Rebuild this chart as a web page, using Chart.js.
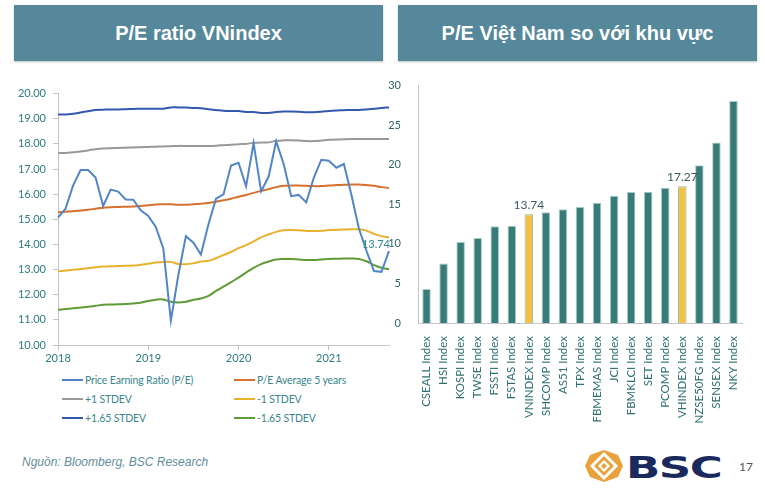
<!DOCTYPE html>
<html>
<head>
<meta charset="utf-8">
<script src="https://cdn.jsdelivr.net/npm/chart.js@4.4.1/dist/chart.umd.min.js"></script>
<style>
  body {
    margin: 0;
    width: 765px;
    height: 490px;
    background: #fff;
    position: relative;
    overflow: hidden;
    font-family: Lato, "Open Sans", sans-serif;
  }
  .header {
    position: absolute;
    top: 5px;
    height: 56px;
    background: #55889a;
    color: #fff;
    font-family: "Liberation Sans Narrow", "Arial Narrow", sans-serif;
    font-weight: bold;
    font-size: 20px;
    display: flex;
    align-items: center;
    justify-content: center;
    box-shadow: 0 1px 2px rgba(0, 0, 0, 0.25);
  }
  .box { position: absolute; }
  #peLegend {
    position: absolute;
    left: 62px;
    top: 372px;
    display: grid;
    grid-template-columns: 172px 150px;
    row-gap: 4px;
    font-size: 10.5px;
    letter-spacing: -0.15px;
    color: #3a868d;
  }
  .item { display: flex; align-items: center; height: 15px; white-space: nowrap; }
  .swatch { width: 21px; height: 2px; margin-right: 2px; }
  .source {
    position: absolute;
    left: 22px;
    top: 455px;
    font-family: "Liberation Sans", Arial, sans-serif;
    font-style: italic;
    font-size: 12px;
    color: #5f8e9c;
  }
  .logo { position: absolute; left: 584px; top: 449px; }
  .bsc {
    position: absolute;
    left: 626px;
    top: 450px;
    font-family: "DejaVu Sans", sans-serif;
    font-weight: bold;
    font-size: 30px;
    color: #1b2a5c;
    transform: scaleX(1.5);
    transform-origin: left top;
    letter-spacing: -1px;
  }
  .page { position: absolute; left: 739px; top: 459px; font-size: 12px; color: #555; }
</style>
</head>
<body>
<div class="header" style="left:14px; width:369px;">P/E ratio VNindex</div>
<div class="header" style="left:398px; width:359px;">P/E Việt Nam so với khu vực</div>

<div class="box" style="left:0; top:80px; width:395px; height:285px;">
  <canvas id="peChart"></canvas>
</div>
<div id="peLegend"></div>

<div class="box" style="left:385px; top:70px; width:380px; height:360px;">
  <canvas id="regionChart"></canvas>
</div>

<div class="source">Nguồn: Bloomberg, BSC Research</div>
<svg class="logo" width="40" height="34" viewBox="0 0 40 34">
  <path d="M20 1 L34 6 L39 17 L34 28 L20 33 L6 28 L1 17 L6 6 Z" fill="#e9a23b"/>
  <path d="M20 5 L32 17 L20 29 L8 17 Z" fill="none" stroke="#fff" stroke-width="3"/>
  <path d="M20 11 L26 17 L20 23 L14 17 Z" fill="#fff"/>
  <path d="M20 14 L23 17 L20 20 L17 17 Z" fill="#e9a23b"/>
</svg>
<div class="bsc">BSC</div>
<div class="page">17</div>

<script>
// Monthly P/E of VNindex and its bands (Jan 2018 - Sep 2021)
const months = [
  "2018-01", "2018-02", "2018-03", "2018-04", "2018-05", "2018-06", "2018-07", "2018-08", "2018-09", "2018-10", "2018-11", "2018-12",
  "2019-01", "2019-02", "2019-03", "2019-04", "2019-05", "2019-06", "2019-07", "2019-08", "2019-09", "2019-10", "2019-11", "2019-12",
  "2020-01", "2020-02", "2020-03", "2020-04", "2020-05", "2020-06", "2020-07", "2020-08", "2020-09", "2020-10", "2020-11", "2020-12",
  "2021-01", "2021-02", "2021-03", "2021-04", "2021-05", "2021-06", "2021-07", "2021-08", "2021-09",
];
const peRatio = [
  15.07, 15.42, 16.34, 16.96, 16.96, 16.66, 15.53, 16.18, 16.10, 15.79, 15.78, 15.36,
  15.13, 14.70, 13.84, 10.97, 12.79, 14.33, 14.07, 13.60, 14.80, 15.82, 15.99, 17.14,
  17.25, 16.31, 18.03, 16.11, 16.70, 18.10, 17.20, 15.92, 15.97, 15.67, 16.65, 17.37,
  17.33, 17.05, 17.20, 15.98, 14.63, 13.75, 12.94, 12.91, 13.74,
];
const peAvg5y = [
  15.28, 15.30, 15.32, 15.35, 15.38, 15.42, 15.46, 15.48, 15.49, 15.50, 15.51, 15.53,
  15.56, 15.59, 15.60, 15.60, 15.58, 15.58, 15.60, 15.62, 15.65, 15.70, 15.76, 15.82,
  15.90, 15.97, 16.05, 16.13, 16.20, 16.28, 16.33, 16.34, 16.34, 16.33, 16.32, 16.32,
  16.34, 16.36, 16.37, 16.38, 16.38, 16.36, 16.33, 16.28, 16.25,
];
const plus1Sd = [
  17.63, 17.64, 17.67, 17.70, 17.74, 17.79, 17.82, 17.83, 17.84, 17.85, 17.86, 17.87,
  17.88, 17.89, 17.90, 17.91, 17.92, 17.92, 17.92, 17.92, 17.92, 17.93, 17.95, 17.97,
  17.99, 18.00, 18.04, 18.05, 18.06, 18.12, 18.14, 18.14, 18.13, 18.11, 18.11, 18.13,
  18.16, 18.17, 18.18, 18.19, 18.19, 18.19, 18.19, 18.19, 18.19,
];
const minus1Sd = [
  12.93, 12.96, 12.99, 13.02, 13.05, 13.09, 13.12, 13.13, 13.14, 13.15, 13.16, 13.19,
  13.23, 13.28, 13.30, 13.30, 13.22, 13.21, 13.25, 13.32, 13.35, 13.45, 13.58, 13.70,
  13.85, 13.97, 14.12, 14.28, 14.40, 14.50, 14.56, 14.57, 14.56, 14.54, 14.53, 14.54,
  14.57, 14.58, 14.59, 14.60, 14.60, 14.55, 14.42, 14.33, 14.28,
];
const plus165Sd = [
  19.17, 19.17, 19.20, 19.25, 19.30, 19.35, 19.36, 19.37, 19.37, 19.38, 19.39, 19.40,
  19.40, 19.40, 19.40, 19.45, 19.45, 19.45, 19.43, 19.42, 19.38, 19.35, 19.32, 19.31,
  19.31, 19.27, 19.27, 19.23, 19.23, 19.27, 19.29, 19.29, 19.28, 19.26, 19.26, 19.28,
  19.31, 19.33, 19.34, 19.35, 19.35, 19.37, 19.40, 19.43, 19.45,
];
const minus165Sd = [
  11.40, 11.43, 11.46, 11.49, 11.52, 11.56, 11.60, 11.61, 11.62, 11.63, 11.65, 11.68,
  11.75, 11.80, 11.81, 11.72, 11.69, 11.72, 11.80, 11.85, 11.95, 12.15, 12.32, 12.50,
  12.68, 12.88, 13.07, 13.22, 13.32, 13.40, 13.42, 13.42, 13.40, 13.38, 13.38, 13.40,
  13.42, 13.43, 13.44, 13.44, 13.42, 13.33, 13.18, 13.07, 13.02,
];

// Regional P/E comparison
const indexNames = [
  "CSEALL Index", "HSI Index", "KOSPI Index", "TWSE Index", "FSSTI Index", "FSTAS Index",
  "VNINDEX Index", "SHCOMP Index", "AS51 Index", "TPX Index", "FBMEMAS Index", "JCI Index",
  "FBMKLCI Index", "SET Index", "PCOMP Index", "VHINDEX Index", "NZSE50FG Index", "SENSEX Index", "NKY Index",
];
const indexPE = [
  4.30, 7.52, 10.24, 10.74, 12.24, 12.29, 13.74, 14.00, 14.38, 14.67,
  15.21, 16.09, 16.55, 16.59, 17.09, 17.27, 19.93, 22.82, 28.04,
];
const highlighted = ["VNINDEX Index", "VHINDEX Index"];

const tickColor = "#2f7c80";
const axisColor = "#c4c4c4";

/**
 * Label on the last P/E point
 */
const lastValueLabel = {
  id: "lastValueLabel",
  afterDatasetsDraw(chart) {
    const meta = chart.getDatasetMeta(0);
    const pt = meta.data[meta.data.length - 1];
    const value = chart.data.datasets[0].data[meta.data.length - 1];
    const ctx = chart.ctx;
    ctx.save();
    ctx.font = "11px Lato, sans-serif";
    ctx.fillStyle = "#31888c";
    ctx.textAlign = "right";
    ctx.textBaseline = "bottom";
    ctx.fillText(value.toFixed(2), pt.x + 1, pt.y - 1);
    ctx.restore();
  },
};

/**
 * Labels above highlighted bars
 */
const barValueLabels = {
  id: "barValueLabels",
  afterDatasetsDraw(chart) {
    const meta = chart.getDatasetMeta(0);
    const ctx = chart.ctx;
    ctx.save();
    ctx.font = "12px Lato, sans-serif";
    ctx.fillStyle = "#3d5c5c";
    ctx.textAlign = "center";
    ctx.textBaseline = "bottom";
    chart.data.labels.forEach((name, i) => {
      if (!highlighted.includes(name)) return;
      const bar = meta.data[i];
      ctx.fillText(chart.data.datasets[0].data[i].toFixed(2), bar.x, bar.y - 3);
    });
    ctx.restore();
  },
};

function lineSet(label, data, color, tension) {
  return {
    label,
    data,
    borderColor: color,
    backgroundColor: color,
    borderWidth: 2,
    pointRadius: 0,
    tension,
    fill: false,
  };
}

const peChart = new Chart(document.getElementById("peChart"), {
  type: "line",
  data: {
    labels: months,
    datasets: [
      lineSet("Price Earning Ratio (P/E)", peRatio, "#5285c6", 0),
      lineSet("P/E Average 5 years", peAvg5y, "#d5702f", 0.4),
      lineSet("+1 STDEV", plus1Sd, "#999999", 0.4),
      lineSet("-1 STDEV", minus1Sd, "#e8b22e", 0.4),
      lineSet("+1.65 STDEV", plus165Sd, "#3458ae", 0.4),
      lineSet("-1.65 STDEV", minus165Sd, "#5f9b36", 0.4),
    ],
  },
  options: {
    responsive: true,
    maintainAspectRatio: false,
    animation: false,
    layout: { padding: { top: 12, right: 6, left: 0, bottom: 0 } },
    plugins: {
      legend: { display: false },
      tooltip: { enabled: false },
    },
    scales: {
      x: {
        grid: { drawOnChartArea: false, tickLength: 5, color: axisColor },
        border: { color: axisColor },
        ticks: {
          autoSkip: false,
          maxRotation: 0,
          padding: 2,
          color: tickColor,
          font: { family: "Lato, sans-serif", size: 11 },
          callback(value) {
            const label = this.getLabelForValue(value);
            return label.endsWith("-01") ? label.slice(0, 4) : null;
          },
        },
        afterFit(scale) {
          scale.height = 20;
        },
      },
      y: {
        min: 10,
        max: 20,
        grid: { drawOnChartArea: false, tickLength: 5, color: axisColor },
        border: { color: axisColor },
        ticks: {
          stepSize: 1,
          padding: 7,
          color: tickColor,
          font: { family: "Lato, sans-serif", size: 11 },
          callback: (v) => v.toFixed(2),
        },
        afterFit(scale) {
          scale.width = 58;
        },
      },
    },
  },
  plugins: [lastValueLabel],
});

// HTML legend in two columns, built from the chart datasets
const legendEl = document.getElementById("peLegend");
peChart.data.datasets.forEach((ds) => {
  const item = document.createElement("div");
  item.className = "item";
  item.innerHTML = `<span class="swatch" style="background:${ds.borderColor}"></span>${ds.label}`;
  legendEl.appendChild(item);
});

new Chart(document.getElementById("regionChart"), {
  type: "bar",
  data: {
    labels: indexNames,
    datasets: [
      {
        data: indexPE,
        backgroundColor: indexNames.map((n) => (highlighted.includes(n) ? "#f4c242" : "#387c7a")),
        borderColor: indexNames.map((n) => (highlighted.includes(n) ? "#8fb5ad" : "#a8cdc6")),
        borderWidth: 1,
        categoryPercentage: 1,
        barPercentage: 0.5,
      },
    ],
  },
  options: {
    responsive: true,
    maintainAspectRatio: false,
    animation: false,
    layout: { padding: { top: 14, right: 23, left: 0, bottom: 0 } },
    plugins: {
      legend: { display: false },
      tooltip: { enabled: false },
    },
    scales: {
      x: {
        grid: { display: false },
        border: { color: axisColor },
        ticks: {
          autoSkip: false,
          minRotation: 90,
          maxRotation: 90,
          padding: 5,
          color: "#2f6f70",
          font: { family: "Lato, sans-serif", size: 11.5 },
        },
        afterFit(scale) {
          scale.height = 107;
        },
      },
      y: {
        min: 0,
        max: 30,
        grid: { display: false },
        border: { color: axisColor },
        ticks: {
          stepSize: 5,
          padding: 9,
          color: "#2f6466",
          font: { family: "Lato, sans-serif", size: 11 },
        },
        afterFit(scale) {
          scale.width = 33;
        },
      },
    },
  },
  plugins: [barValueLabels],
});
</script>
</body>
</html>
